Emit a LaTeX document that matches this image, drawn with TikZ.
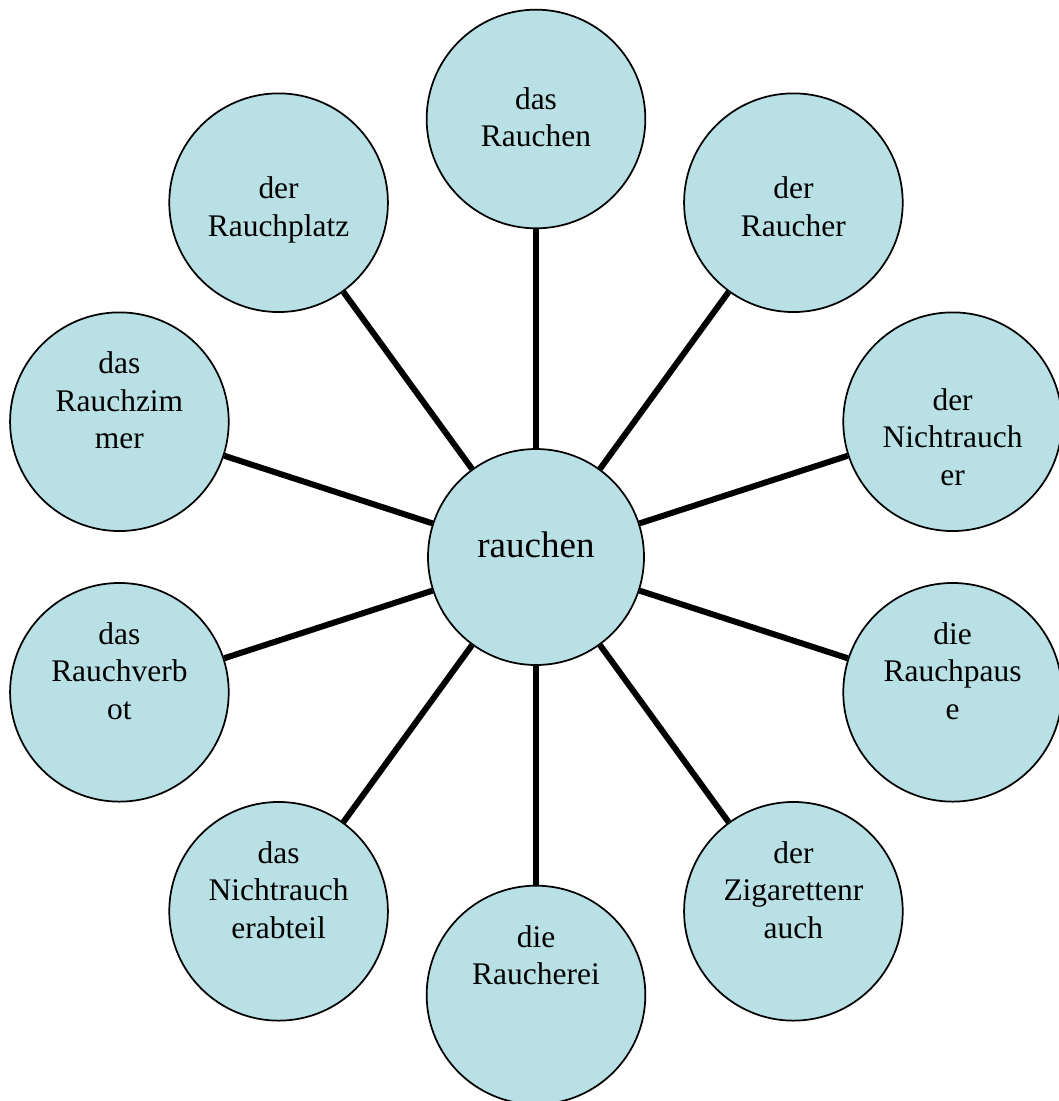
\documentclass[tikz,border=0pt]{standalone}
\usepackage{fontspec}
\setmainfont{Liberation Serif}
\definecolor{hellblau}{RGB}{185,224,228}

\begin{document}
\begin{tikzpicture}[x=0.75pt, y=-0.75pt,
  kreis/.style={draw, circle, fill=hellblau, line width=1.3pt, minimum size=164pt, inner sep=0pt},
  wort/.style={align=center, inner sep=0pt, anchor=north, font=\fontsize{23.6}{28.1}\selectfont},
  strich/.style={line width=4.5pt}]
\useasboundingbox (0,0) rectangle (1059,1101);

% Mitte
\node[kreis, minimum size=162pt, font=\fontsize{27.8}{33}\selectfont, text height=19pt, text depth=19pt] (mitte) at (536,557) {rauchen};

% Kreise
\node[kreis] (rauchen) at (536,119) {};
\node[kreis] (raucher) at (793.4,202.7) {};
\node[kreis] (nicht) at (952.6,421.7) {};
\node[kreis] (pause) at (952.6,692.3) {};
\node[kreis] (zig) at (793.4,911.3) {};
\node[kreis] (rei) at (536,995) {};
\node[kreis] (abteil) at (278.6,911.3) {};
\node[kreis] (verbot) at (119.4,692.3) {};
\node[kreis] (zimmer) at (119.4,421.7) {};
\node[kreis] (platz) at (278.6,202.7) {};

% Woerter
\node[wort] (trauchen) at ([yshift=24pt]rauchen.center) {das\\Rauchen};
\node[wort] (traucher) at ([yshift=19.6pt]raucher.center) {der\\Raucher};
\node[wort] (tnicht) at ([yshift=25.1pt]nicht.center) {der\\Nichtrauch\\er};
\node[wort] (tpause) at ([yshift=52.5pt]pause.center) {die\\Rauchpaus\\e};
\node[wort] (tzig) at ([yshift=52.5pt]zig.center) {der\\Zigarettenr\\auch};
\node[wort] (trei) at ([yshift=52.5pt]rei.center) {die\\Raucherei};
\node[wort] (tabteil) at ([yshift=52.5pt]abteil.center) {das\\Nichtrauch\\erabteil};
\node[wort] (tverbot) at ([yshift=52.5pt]verbot.center) {das\\Rauchverb\\ot};
\node[wort] (tzimmer) at ([yshift=52.5pt]zimmer.center) {das\\Rauchzim\\mer};
\node[wort] (tplatz) at ([yshift=19.5pt]platz.center) {der\\Rauchplatz};

% Verbindungen
\draw[strich] (mitte) -- (rauchen);
\draw[strich] (mitte) -- (raucher);
\draw[strich] (mitte) -- (nicht);
\draw[strich] (mitte) -- (pause);
\draw[strich] (mitte) -- (zig);
\draw[strich] (mitte) -- (rei);
\draw[strich] (mitte) -- (abteil);
\draw[strich] (mitte) -- (verbot);
\draw[strich] (mitte) -- (zimmer);
\draw[strich] (mitte) -- (platz);
\end{tikzpicture}
\end{document}
